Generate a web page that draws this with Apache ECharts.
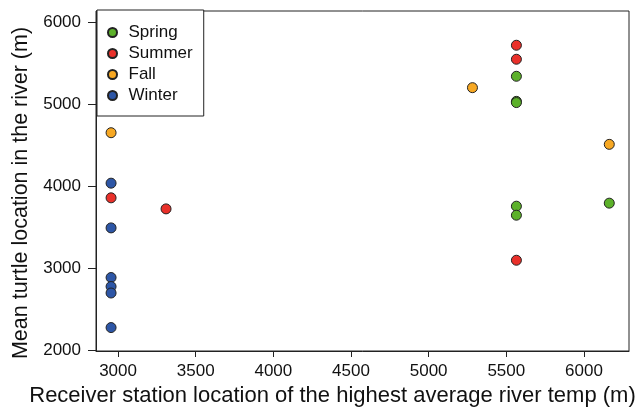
<!DOCTYPE html>
<html>
<head>
<meta charset="utf-8">
<script src="https://cdn.jsdelivr.net/npm/echarts@6/dist/echarts.min.js"></script>
<style>
  html, body { margin: 0; padding: 0; background: #fff; }
  #chart { width: 644px; height: 408px; }
</style>
</head>
<body>
<div id="chart"></div>
<script>
// station location (x) and mean turtle location (y) per season
const springX = [5565, 5565, 5565, 5565, 5565, 6163];
const springY = [5346, 5040, 5025, 3760, 3650, 3797];
const summerX = [5565, 5565, 5565, 2955, 3309];
const summerY = [5725, 5554, 3100, 3862, 3727];
const fallX = [2955, 5282, 6163];
const fallY = [4657, 5207, 4515];
const winterX = [2955, 2955, 2955, 2955, 2955, 2955];
const winterY = [4041, 3495, 2889, 2779, 2700, 2278];

const xTicks = [3000, 3500, 4000, 4500, 5000, 5500, 6000];
const yTicks = [2000, 3000, 4000, 5000, 6000];

const font = 'Liberation Sans, Arial, sans-serif';

function pairs(xs, ys) {
    return xs.map((x, i) => [x, ys[i]]);
}

function season(name, color, xs, ys) {
    return {
        name: name,
        type: 'scatter',
        symbol: 'circle',
        symbolSize: 10,
        data: pairs(xs, ys),
        itemStyle: { color: color, borderColor: '#222', borderWidth: 1, opacity: 1 },
        emphasis: { disabled: true }
    };
}

const mychart = echarts.init(document.getElementById('chart'));
mychart.setOption({
    animation: false,
    textStyle: { fontFamily: font },
    grid: {
        left: 96, right: 15, top: 11, bottom: 57,
        outerBoundsMode: 'none', containLabel: false,
        show: true, borderColor: '#222', borderWidth: 1
    },
    legend: {
        left: 97,
        top: 10,
        orient: 'vertical',
        borderColor: '#222',
        borderWidth: 1,
        backgroundColor: '#fff',
        padding: [14, 11, 12, 10],
        itemWidth: 10,
        itemHeight: 9,
        itemGap: 4,
        textStyle: { fontSize: 17, lineHeight: 17, color: '#111', fontFamily: font, padding: [0, 0, 0, 6] },
        data: ['Spring', 'Summer', 'Fall', 'Winter']
    },
    xAxis: {
        type: 'value',
        min: 2858,
        max: 6290,
        name: 'Receiver station location of the highest average river temp (m)',
        nameLocation: 'middle',
        nameGap: 34,
        nameTextStyle: { fontSize: 22, color: '#111', padding: [0, 60, 0, 0] },
        axisLine: { show: true, lineStyle: { color: '#222' } },
        axisTick: { show: true, length: 6, customValues: xTicks, lineStyle: { color: '#222' } },
        axisLabel: { customValues: xTicks, formatter: v => String(v), fontSize: 17, color: '#111', margin: 12 },
        splitLine: { show: false }
    },
    yAxis: {
        type: 'value',
        min: 1992,
        max: 6143,
        name: 'Mean turtle location in the river (m)',
        nameLocation: 'middle',
        nameGap: 63,
        nameTextStyle: { fontSize: 21.5, color: '#111', padding: [0, 24, 0, 0] },
        axisLine: { show: true, lineStyle: { color: '#222' } },
        axisTick: { show: true, length: 8, customValues: yTicks, lineStyle: { color: '#222' } },
        axisLabel: { customValues: yTicks, formatter: v => String(v), fontSize: 17, color: '#111', margin: 15 },
        splitLine: { show: false }
    },
    series: [
        season('Spring', '#5cb12a', springX, springY),
        season('Summer', '#e9302a', summerX, summerY),
        season('Fall', '#f7a823', fallX, fallY),
        season('Winter', '#2d56a6', winterX, winterY)
    ]
});
</script>
</body>
</html>
